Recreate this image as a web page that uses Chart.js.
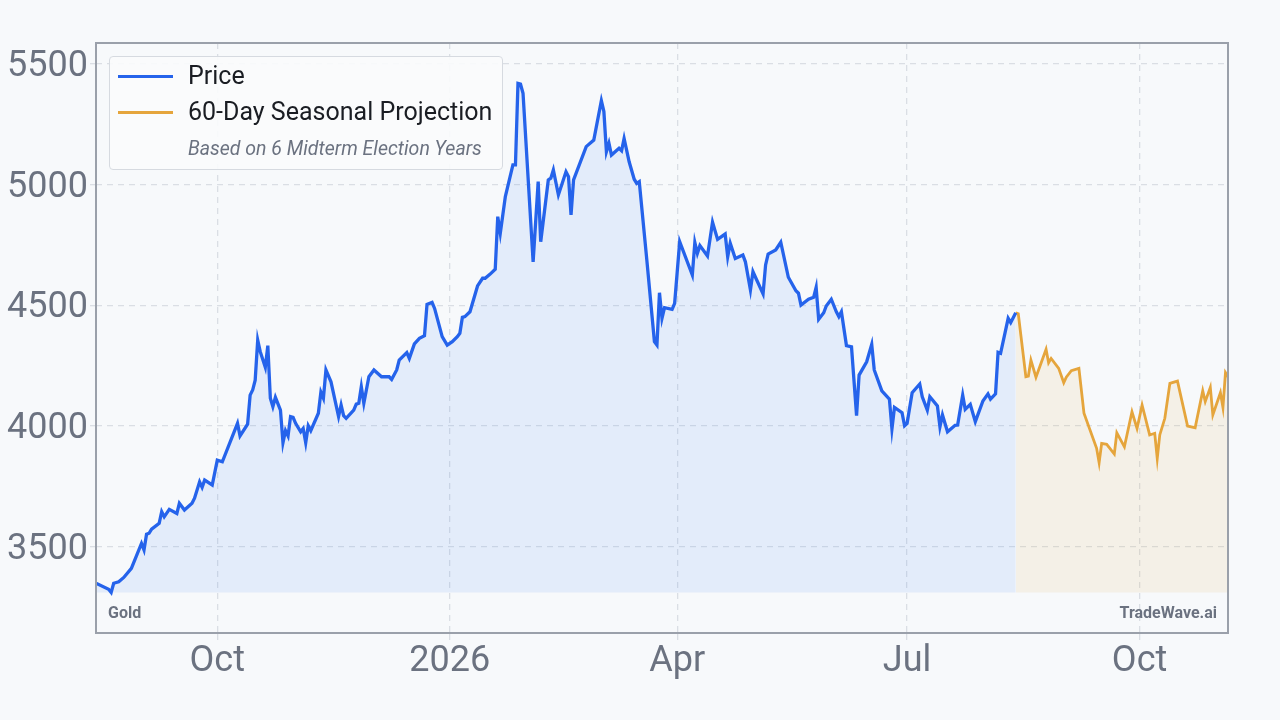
<!DOCTYPE html>
<html>
<head>
<meta charset="utf-8">
<script src="https://cdn.jsdelivr.net/npm/chart.js@4.4.1/dist/chart.umd.min.js"></script>
<style>
  html, body { margin: 0; padding: 0; background: #f7f9fb; }
  #wrap { position: relative; width: 1280px; height: 720px; font-family: Roboto, sans-serif; }
  #legend {
    position: absolute; left: 109px; top: 56px; width: 394px; height: 114px;
    border: 1px solid #d6dae0; border-radius: 4px; background: rgba(250,251,252,0.92);
    box-sizing: border-box;
  }
  .swatch { position: absolute; left: 8px; width: 55px; }
  .lbl { position: absolute; left: 78px; font-size: 25px; line-height: 28px; color: #1a1d23; white-space: nowrap; }
  .note { position: absolute; left: 78px; top: 80px; font-size: 19.5px; line-height: 24px; font-style: italic; color: #6b7280; white-space: nowrap; }
  .mark { position: absolute; top: 603px; font-size: 16px; font-weight: bold; color: #6b7280; line-height: 20px; }
</style>
</head>
<body>
<div id="wrap">
  <canvas id="goldChart" width="1280" height="720"></canvas>
  <div id="legend">
    <div class="swatch" style="top:18px;height:3px;background:#2563eb"></div>
    <div class="lbl" style="top:5px">Price</div>
    <div class="swatch" style="top:54px;height:2.5px;background:#e5a53c"></div>
    <div class="lbl" style="top:41px">60-Day Seasonal Projection</div>
    <div class="note">Based on 6 Midterm Election Years</div>
  </div>
  <div class="mark" style="left:108px">Gold</div>
  <div class="mark" style="right:63px">TradeWave.ai</div>
</div>
<script>
/* ── Dados ── */
const START_DATE = '2025-08-14';   // dia 0 do eixo x

// preço: dias desde START_DATE / valor
const priceDays = [
  0,5,6,7,9,11,14,18,19,20,21,22,25,26,27,29,32,33,35,38,39,41,42,43,46,48,50,
  56,57,60,61,62,63,64,65,67,68,69,70,71,73,74,75,76,77,78,79,81,82,83,84,85,
  88,89,90,91,93,96,97,98,99,102,103,104,105,106,108,110,113,116,117,119,120,
  123,124,126,128,130,131,133,134,137,139,141,143,144,145,146,148,151,153,154,
  156,158,159,160,162,165,166,167,168,169,173,175,176,179,180,181,183,186,187,
  188,189,194,197,200,201,202,203,204,207,208,209,211,213,214,215,218,221,222,
  223,224,225,228,229,231,236,237,238,239,242,244,246,249,250,251,253,256,257,
  259,260,264,265,266,269,271,274,277,278,279,282,284,285,286,288,289,291,293,
  294,295,297,299,301,302,305,307,308,311,314,315,316,319,320,321,323,326,327,
  329,330,333,334,335,337,340,341,343,344,346,348,351,353,354,356,357,358,361,
  362,364
];
const priceValues = [
  3349,3324,3311,3349,3355,3373,3411,3514,3487,3552,3556,3573,3597,3645,3624,3655,3638,3680,3652,3680,3701,3769,3746,3776,3756,3859,3852,
  4011,3959,4008,4128,4149,4190,4356,4308,4243,4333,4115,4080,4119,4066,3931,3981,3959,4039,4036,4011,3976,3990,3931,4001,3981,
  4053,4140,4115,4232,4183,4039,4087,4043,4032,4066,4091,4094,4163,4094,4204,4232,4204,4204,4193,4232,4273,
  4304,4280,4340,4363,4374,4504,4512,4487,4370,4335,4349,4370,4384,4450,4453,4473,4580,4612,4612,
  4629,4649,4867,4798,4950,5081,5081,5419,5416,5378,4680,5012,4763,5019,5026,5060,4957,5053,5032,
  4874,5019,5157,5184,5347,5302,5136,5171,5122,5150,5140,5191,5094,5022,5005,5012,4687,4349,4335,
  4552,4446,4490,4483,4508,4763,4625,4760,4715,4747,4704,4844,4773,4795,4701,4757,4694,4708,4680,
  4563,4639,4547,4667,4712,4729,4761,4616,4560,4550,4501,4525,4533,4574,4442,4469,4497,4525,4473,
  4453,4473,4333,4328,4043,4211,4266,4338,4232,4146,4111,3988,4077,4055,4001,4011,4138,4174,4121,
  4066,4121,4083,3997,4046,3976,4003,4004,4128,4069,4090,4018,4104,4133,4111,4133,4305,4301,4446,
  4428,4469
];

// projeção sazonal (60 dias úteis)
const projDays = [
  364,365,368,369,370,372,374,376,377,378,381,383,384,386,389,391,396,397,398,400,
  403,404,407,410,412,414,417,419,420,421,423,425,428,432,435,438,439,441,442,445,
  446,447,448
];
const projValues = [
  4469,4465,4204,4207,4273,4202,4260,4318,4262,4280,4239,4179,4202,4229,4239,4053,3908,3848,3928,3924,
  3884,3972,3914,4059,3990,4087,3963,3970,3866,3963,4032,4177,4186,4000,3993,4146,4101,4160,4046,4138,
  4077,4221,4204
];

// eixos
const xTickDates  = ['2025-10-01', '2026-01-01', '2026-04-01', '2026-07-01', '2026-10-01'];
const xTickLabels = ['Oct', '2026', 'Apr', 'Jul', 'Oct'];
const yTicks = [3500, 4000, 4500, 5000, 5500];
const Y_MIN = 3143, Y_MAX = 5586;

/* ── Helpers ── */
const DAY = 86400000;
const dayOf = s => Math.round((Date.parse(s) - Date.parse(START_DATE)) / DAY);
const xTickDays = xTickDates.map(dayOf);
const fillBase = Math.min(...priceValues);

const C = {
  price: '#2563eb',
  proj:  '#e5a53c',
  tick:  '#6b7280',
  grid:  '#dadee4',
  box:   '#9aa0aa',
};

/* ── Borda da área do gráfico ── */
const boxPlugin = {
  id: 'plotBox',
  afterDraw(chart) {
    const { ctx, chartArea: a } = chart;
    ctx.save();
    ctx.strokeStyle = C.box;
    ctx.lineWidth = 2;
    ctx.strokeRect(a.left, a.top, a.right - a.left, a.bottom - a.top);
    ctx.restore();
  }
};

const tickFont = { family: 'Roboto', size: 36 };

new Chart(document.getElementById('goldChart'), {
  type: 'line',
  data: {
    datasets: [
      {
        label: 'Price',
        data: priceDays.map((d, i) => ({ x: d, y: priceValues[i] })),
        borderColor: C.price,
        backgroundColor: 'rgba(59,130,246,0.10)',
        fill: { value: fillBase },
        borderWidth: 3.3,
        pointRadius: 0,
        tension: 0,
      },
      {
        label: '60-Day Seasonal Projection',
        data: projDays.map((d, i) => ({ x: d, y: projValues[i] })),
        borderColor: C.proj,
        backgroundColor: 'rgba(229,165,60,0.10)',
        fill: { value: fillBase },
        borderWidth: 2.8,
        pointRadius: 0,
        tension: 0,
      }
    ]
  },
  options: {
    responsive: false,
    animation: false,
    layout: { padding: { top: 43, right: 52, left: 0, bottom: 0 } },
    plugins: { legend: { display: false }, tooltip: { enabled: false } },
    scales: {
      x: {
        type: 'linear',
        min: 0,
        max: projDays[projDays.length - 1],
        afterBuildTicks: s => { s.ticks = xTickDays.map(v => ({ value: v })); },
        afterFit: s => { s.height = 87; },
        ticks: {
          autoSkip: false, maxRotation: 0, padding: 0,
          color: C.tick, font: tickFont,
          callback: (v, i) => xTickLabels[i],
        },
        grid: { color: C.grid, lineWidth: 1.3, tickLength: 7 },
        border: { display: false, dash: [6, 5] },
      },
      y: {
        min: Y_MIN,
        max: Y_MAX,
        afterBuildTicks: s => { s.ticks = yTicks.map(v => ({ value: v })); },
        afterFit: s => { s.width = 96; },
        ticks: { color: C.tick, font: tickFont, padding: 2, labelOffset: 3, callback: v => String(v) },
        grid: { color: C.grid, lineWidth: 1.3, tickLength: 6 },
        border: { display: false, dash: [6, 5] },
      }
    }
  },
  plugins: [boxPlugin]
});
</script>
</body>
</html>
